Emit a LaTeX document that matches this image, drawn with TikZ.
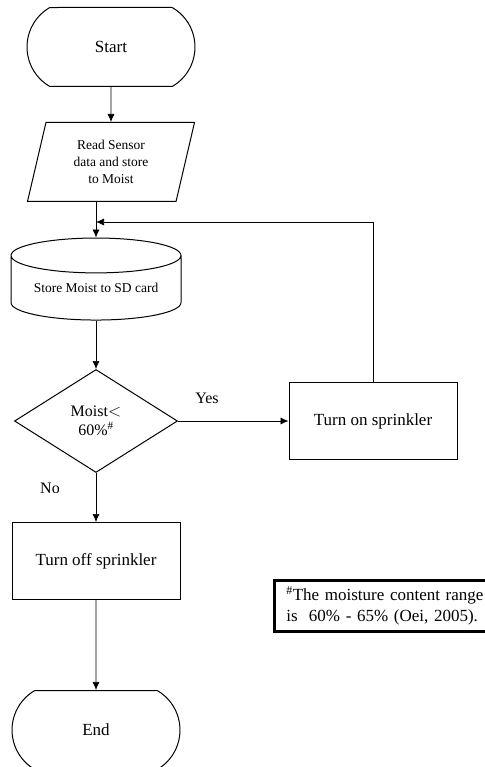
\documentclass[tikz,border=0pt]{standalone}
\usepackage{fontspec}
\setmainfont{Liberation Serif}
\usetikzlibrary{arrows.meta,positioning,shapes.geometric,shapes.misc}

\begin{document}
\begin{tikzpicture}[x=1pt,y=-1pt,line width=1pt,>={Latex[length=8pt,width=7pt]},
  term node/.style={rounded rectangle,rounded rectangle arc length=120,draw,minimum width=168pt,minimum height=79pt,inner sep=0pt,font=\fontsize{17}{20}\selectfont},
  io node/.style={trapezium,trapezium left angle=67,trapezium right angle=113,trapezium stretches body,draw,minimum width=167pt,minimum height=79pt,inner sep=0pt,align=center,font=\fontsize{13.5}{17}\selectfont},
  disk node/.style={cylinder,shape border rotate=90,shape aspect=0.28,draw,minimum width=170pt,minimum height=82pt,inner sep=0pt,font=\fontsize{13.5}{16}\selectfont},
  dec node/.style={diamond,draw,minimum width=163pt,minimum height=103pt,inner sep=0pt,align=center,font=\fontsize{16}{19}\selectfont},
  proc node/.style={rectangle,draw,minimum width=168pt,minimum height=77pt,inner sep=0pt,font=\fontsize{17}{20}\selectfont},
  note node/.style={rectangle,draw,line width=2.6pt,text width=205pt,inner xsep=12pt,inner ysep=6pt,align=left,font=\fontsize{17}{21}\selectfont}]
\useasboundingbox (0,0) rectangle (484,767);
\begin{scope}
\node[term node] (start) at (111,47) {Start};
\node[io node] (read) at (111,162) {Read Sensor\\data and store\\to Moist};
\node[disk node] (store) at (96,288) {Store Moist to SD card};
\node[dec node] (moist) at (96,421) {Moist$<$\\60\%\textsuperscript{\#}};
\node[proc node] (on) at (373,421) {Turn on sprinkler};
\node[proc node] (off) at (96,561) {Turn off sprinkler};
\node[term node] (end) at (96,730) {End};
\node[note node,anchor=west] (note) at (273,606) {\textsuperscript{\#}The moisture content range\\is~~60\% - 65\% (Oei, 2005).};
\node[font=\fontsize{16}{19}\selectfont] (yes) at (207,398) {Yes};
\node[font=\fontsize{16}{19}\selectfont] (no) at (50,488) {No};
\coordinate (join) at (96,222);
\end{scope}
\begin{scope}[line width=0.7pt]
\draw[->] (start) -- (read);
\draw[->] (store.north |- read.south) -- (store.north);
\draw[->] (store) -- (moist);
\draw[->] (moist.east) -- (on.west);
\draw[->] (on.north) |- (join);
\draw[->] (moist) -- (off);
\draw[->] (off) -- (end);
\end{scope}
\end{tikzpicture}
\end{document}
